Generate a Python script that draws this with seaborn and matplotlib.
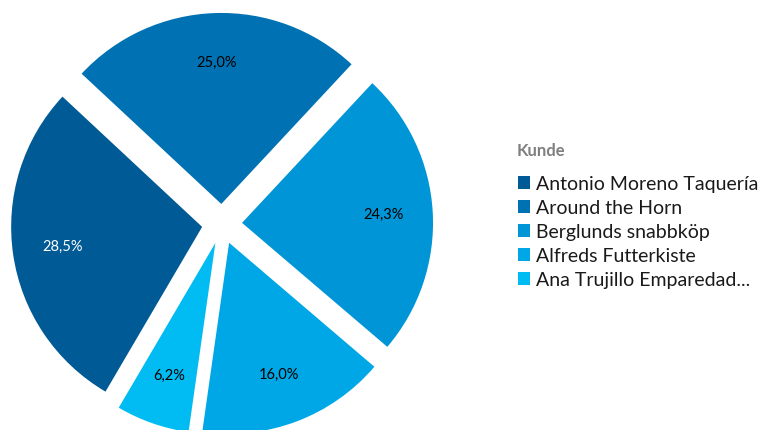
import matplotlib
matplotlib.use("Agg")
import matplotlib.pyplot as plt
from matplotlib.patches import Patch
import seaborn as sns

# Umsatzanteile je Kunde
kunden = ["Antonio Moreno Taquería", "Around the Horn", "Berglunds snabbköp",
          "Alfreds Futterkiste", "Ana Trujillo Emparedad..."]
anteile = [28.5, 25.0, 24.3, 16.0, 6.2]
farben = ["#005A96", "#0072B3", "#0095D6", "#00A7E6", "#00BCF2"]
label_farben = ["white", "black", "black", "black", "black"]

sns.set_theme(style="white")
plt.rcParams["font.family"] = ["Lato", "DejaVu Sans"]

W, H, R = 777, 430, 191.0
cx, cy = 222, 224  # pie centre in pixels from top-left

fig = plt.figure(figsize=(W / 100, H / 100), dpi=100)
ax = fig.add_axes([0, 0, 1, 1])
ax.axis("off")

palette = sns.color_palette(farben)
wedges, texts, autotexts = ax.pie(
    anteile,
    colors=palette,
    startangle=137 + anteile[0] * 3.6,
    counterclock=False,
    explode=[0.105] * len(anteile),
    autopct=lambda p: f"{p:.1f}%".replace(".", ","),
    pctdistance=0.74,
    radius=1.0,
    wedgeprops=dict(linewidth=0),
    textprops=dict(fontsize=10.5),
    frame=False,
)
ax.set_xlim(-cx / R, (W - cx) / R)
ax.set_ylim(-(H - cy) / R, cy / R)
ax.set_aspect("auto")
for t, c in zip(autotexts, label_farben):
    t.set_color(c)

handles = [Patch(facecolor=c, edgecolor="none") for c in palette]
leg = ax.legend(
    handles, kunden,
    loc="upper left",
    bbox_to_anchor=(510 / W, 1 - 168 / H),
    bbox_transform=fig.transFigure,
    frameon=False,
    fontsize=14,
    handlelength=0.65,
    handleheight=0.65,
    handletextpad=0.3,
    labelspacing=0.36,
    borderaxespad=0,
)
for t in leg.get_texts():
    t.set_color("#1A1A1A")

fig.text(517 / W, 1 - 151 / H, "Kunde", color="#7F7F7F", fontsize=12,
         fontweight="bold", ha="left", va="center")

fig.savefig("out.png", dpi=100)
